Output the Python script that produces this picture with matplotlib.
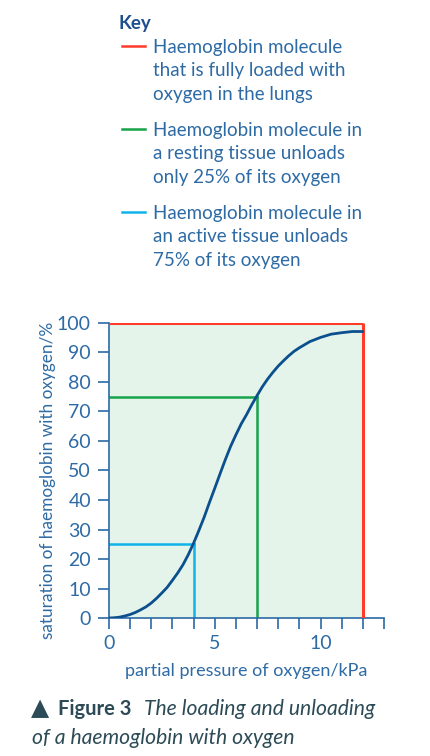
import matplotlib
matplotlib.use("Agg")
import matplotlib.pyplot as plt

#######################################################

# oxygen dissociation curve
pressure = [0, 0.25, 0.5, 0.75, 1, 1.25, 1.5, 1.75, 2, 2.25, 2.5, 2.75, 3, 3.25, 3.5, 3.75,
            4, 4.25, 4.5, 4.75, 5, 5.25, 5.5, 5.75, 6, 6.25, 6.5, 6.75, 7, 7.25, 7.5, 7.75,
            8, 8.25, 8.5, 8.75, 9, 9.5, 10, 10.5, 11, 11.5, 12]
saturation = [0, 0.1, 0.3, 0.7, 1.2, 1.9, 2.8, 3.8, 5.1, 6.7, 8.5, 10.4, 12.8, 15.3, 18.1, 21.5,
              25.4, 29.7, 34.2, 39.2, 44, 48.9, 53.7, 58.2, 62.1, 65.8, 68.9, 72.3, 75.4, 78.4, 81, 83.3,
              85.4, 87.2, 88.9, 90.4, 91.6, 93.7, 95.1, 96.2, 96.7, 97.1, 97.1]

# key guides: (pressure, saturation)
lungs = (12, 100)
resting = (7, 75)
active = (4, 25)

key_labels = [
    "Haemoglobin molecule\nthat is fully loaded with\noxygen in the lungs",
    "Haemoglobin molecule in\na resting tissue unloads\nonly 25% of its oxygen",
    "Haemoglobin molecule in\nan active tissue unloads\n75% of its oxygen",
]

x_ticks = list(range(0, 14))
x_labels = ["0", "", "", "", "", "5", "", "", "", "", "10", "", "", ""]
y_ticks = list(range(0, 101, 10))

RED = "#ff3b2a"
GREEN = "#16a34a"
CYAN = "#10b4ea"
CURVE = "#0b4f8e"
TEXT = "#2e6ba5"
AXIS = "#2c6aa6"
FILL = "#e4f4ea"

plt.rcParams["font.family"] = ["Lato", "DejaVu Sans"]

#######################################################

fig = plt.figure(figsize=(4.3, 7.56), dpi=100)
ax = fig.add_axes([0.2535, 0.1825, 0.893 - 0.2535, 0.5728 - 0.1825])

ax.fill_between([0, lungs[0]], 0, lungs[1], color=FILL, lw=0, zorder=0)

ax.plot([0, lungs[0]], [lungs[1], lungs[1]], color=RED, lw=2.2, zorder=3, solid_capstyle="butt")
ax.plot([lungs[0], lungs[0]], [0, lungs[1]], color=RED, lw=2.2, zorder=3, solid_capstyle="butt")
ax.plot([0, resting[0]], [resting[1], resting[1]], color=GREEN, lw=1.8, zorder=2)
ax.plot([resting[0], resting[0]], [0, resting[1]], color=GREEN, lw=1.8, zorder=2)
ax.plot([0, active[0]], [active[1], active[1]], color=CYAN, lw=1.8, zorder=2)
ax.plot([active[0], active[0]], [0, active[1]], color=CYAN, lw=1.8, zorder=2)

ax.plot(pressure, saturation, color=CURVE, lw=2.0, zorder=4,
        solid_capstyle="round", solid_joinstyle="round")

ax.set_xlim(0, 13)
ax.set_ylim(0, 100)
for side in ["top", "right"]:
    ax.spines[side].set_visible(False)
for side in ["left", "bottom"]:
    ax.spines[side].set_color(AXIS)
    ax.spines[side].set_linewidth(1.2)

ax.set_xticks(x_ticks)
ax.set_xticklabels(x_labels)
ax.set_yticks(y_ticks)
ax.tick_params(axis="both", colors=AXIS, labelcolor=TEXT, length=8, width=1.2, labelsize=14)
ax.tick_params(axis="x", pad=4)
ax.tick_params(axis="y", pad=5)

ax.set_xlabel("partial pressure of oxygen/kPa", color=TEXT, fontsize=13, labelpad=8)
ax.set_ylabel("saturation of haemoglobin with oxygen/%", color=TEXT, fontsize=12.4,
              va="center")
ax.yaxis.set_label_coords(-0.222, 0.468)

# key
fig.text(118 / 430, 1 - 24 / 756, "Key", color="#1d4f8f", fontsize=13.5, fontweight="bold", va="center")
key_y = [46, 129, 212]
key_colors = [RED, GREEN, CYAN]
for y, c, lab in zip(key_y, key_colors, key_labels):
    yy = 1 - y / 756
    fig.add_artist(plt.Line2D([122 / 430, 145 / 430], [yy, yy], color=c, lw=1.8))
    fig.text(153 / 430, yy + 7 / 756, lab, color=TEXT, fontsize=13.5, va="top", linespacing=1.45)

# caption
CAP = "#2d4b56"
fig.text(31 / 430, 1 - 708 / 756, "\u25b2", color=CAP, fontsize=17, va="center", family=["DejaVu Sans"])
fig.text(58 / 430, 1 - 709 / 756, "Figure 3", color=CAP, fontsize=14.5, fontweight="bold", va="center")
fig.text(144 / 430, 1 - 709 / 756, "The loading and unloading", color=CAP, fontsize=15.2, style="italic", va="center")
fig.text(32 / 430, 1 - 738 / 756, "of a haemoglobin with oxygen", color=CAP, fontsize=15.2, style="italic", va="center")

fig.savefig("out.png", dpi=100)
